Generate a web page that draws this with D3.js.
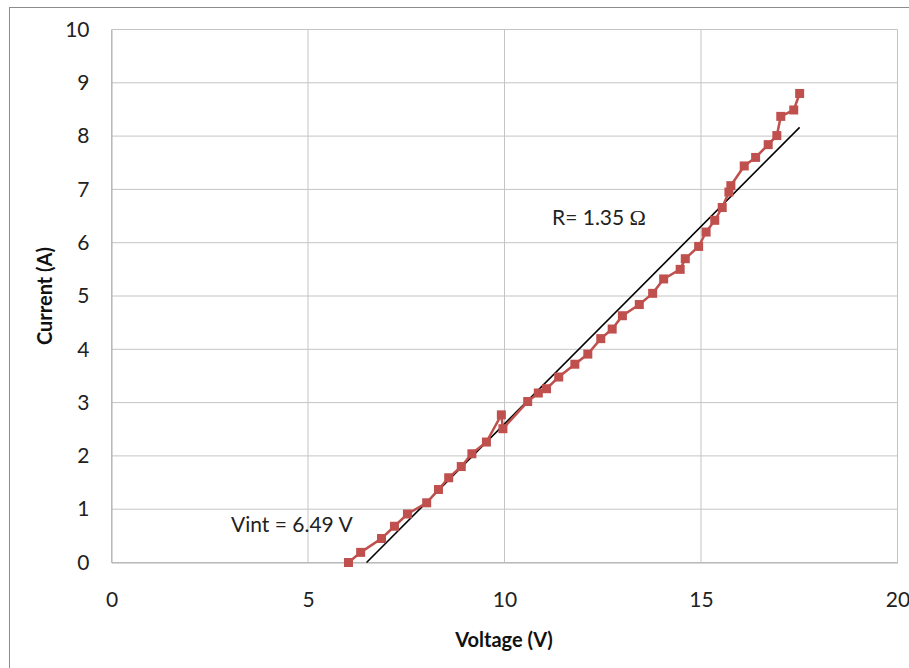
<!DOCTYPE html>
<html><head><meta charset="utf-8">
<script src="https://cdn.jsdelivr.net/npm/d3@7"></script>
<style>html,body{margin:0;padding:0;background:#fff;}</style>
</head><body>
<svg id="c" width="909" height="668"></svg>
<script>
const voltage = [6.03,6.34,6.87,7.2,7.53,8.02,8.32,8.58,8.9,9.17,9.54,9.92,9.96,10.59,10.86,11.07,11.38,11.79,12.12,12.45,12.74,13.0,13.43,13.77,14.05,14.47,14.6,14.94,15.13,15.35,15.54,15.71,15.76,16.1,16.39,16.71,16.93,17.03,17.36,17.51];
const current = [0.0,0.19,0.45,0.68,0.91,1.12,1.37,1.59,1.8,2.04,2.26,2.77,2.51,3.02,3.18,3.26,3.48,3.72,3.91,4.2,4.38,4.63,4.84,5.05,5.32,5.5,5.7,5.93,6.2,6.42,6.66,6.95,7.07,7.44,7.6,7.84,8.01,8.37,8.49,8.8];
const xTicks = [0,5,10,15,20];
const yTicks = [0,1,2,3,4,5,6,7,8,9,10];
const vint = 6.49, resistance = 1.35;
const fitX = [6.49, 17.51];
const labels = {x:"Voltage (V)", y:"Current (A)", r:"R= 1.35 ", omega:"Ω", v:"Vint = 6.49 V"};

const svg = d3.select("#c");
const font = "Lato, 'Open Sans', sans-serif";
svg.append("rect").attr("x",9.5).attr("y",7.5).attr("width",1000).attr("height",1000)
  .attr("fill","#fff").attr("stroke","#8c8c8c").attr("stroke-width",1);

const x = d3.scaleLinear().domain([0,20]).range([111.5,897.5]);
const y = d3.scaleLinear().domain([0,10]).range([562.5,29.5]);

const g = svg.append("g");
g.selectAll("line.h").data(yTicks).join("line")
  .attr("x1",x(0)).attr("x2",x(20)).attr("y1",d=>y(d)).attr("y2",d=>y(d))
  .attr("stroke","#c4c4c4").attr("stroke-width",1);
g.selectAll("line.v").data(xTicks).join("line")
  .attr("y1",y(0)).attr("y2",y(10)).attr("x1",d=>x(d)).attr("x2",d=>x(d))
  .attr("stroke","#c4c4c4").attr("stroke-width",1);

const yAxis = svg.append("g").attr("transform",`translate(${x(0)},0)`)
  .call(d3.axisLeft(y).tickValues(yTicks).tickSize(0).tickPadding(22));
const xAxis = svg.append("g").attr("transform",`translate(0,${y(0)})`)
  .call(d3.axisBottom(x).tickValues(xTicks).tickSize(0).tickPadding(30));
[yAxis,xAxis].forEach(a=>{
  a.select(".domain").attr("stroke","#b0b0b0");
  a.selectAll("text").attr("font-family",font).attr("font-size",21).attr("fill","#222");
});

svg.append("text").attr("x",504).attr("y",647).attr("text-anchor","middle")
  .attr("font-family",font).attr("font-weight","bold").attr("font-size",20).attr("fill","#111").text(labels.x);
svg.append("text").attr("transform","translate(52,296) rotate(-90)").attr("text-anchor","middle")
  .attr("font-family",font).attr("font-weight","bold").attr("font-size",20).attr("fill","#111").text(labels.y);

// fit line
svg.append("line").attr("x1",x(fitX[0])).attr("y1",y((fitX[0]-vint)/resistance))
  .attr("x2",x(fitX[1])).attr("y2",y((fitX[1]-vint)/resistance))
  .attr("stroke","#000").attr("stroke-width",1.6);

const pts = voltage.map((v,i)=>[v,current[i]]);
svg.append("path").datum(pts).attr("fill","none").attr("stroke","#C0504D").attr("stroke-width",2.5)
  .attr("d",d3.line().x(d=>x(d[0])).y(d=>y(d[1])));
svg.selectAll("rect.m").data(pts).join("rect")
  .attr("x",d=>x(d[0])-4.5).attr("y",d=>y(d[1])-4.5).attr("width",9).attr("height",9)
  .attr("fill","#C0504D");

const rt = svg.append("text").attr("x",552).attr("y",225).attr("font-family",font).attr("font-size",21).attr("fill","#222");
rt.append("tspan").text(labels.r);
rt.append("tspan").attr("font-family","'Liberation Serif', serif").attr("font-size",22).text(labels.omega);
svg.append("text").attr("x",231).attr("y",532).attr("font-family",font).attr("font-size",21).attr("fill","#222").text(labels.v);
</script>
</body></html>
